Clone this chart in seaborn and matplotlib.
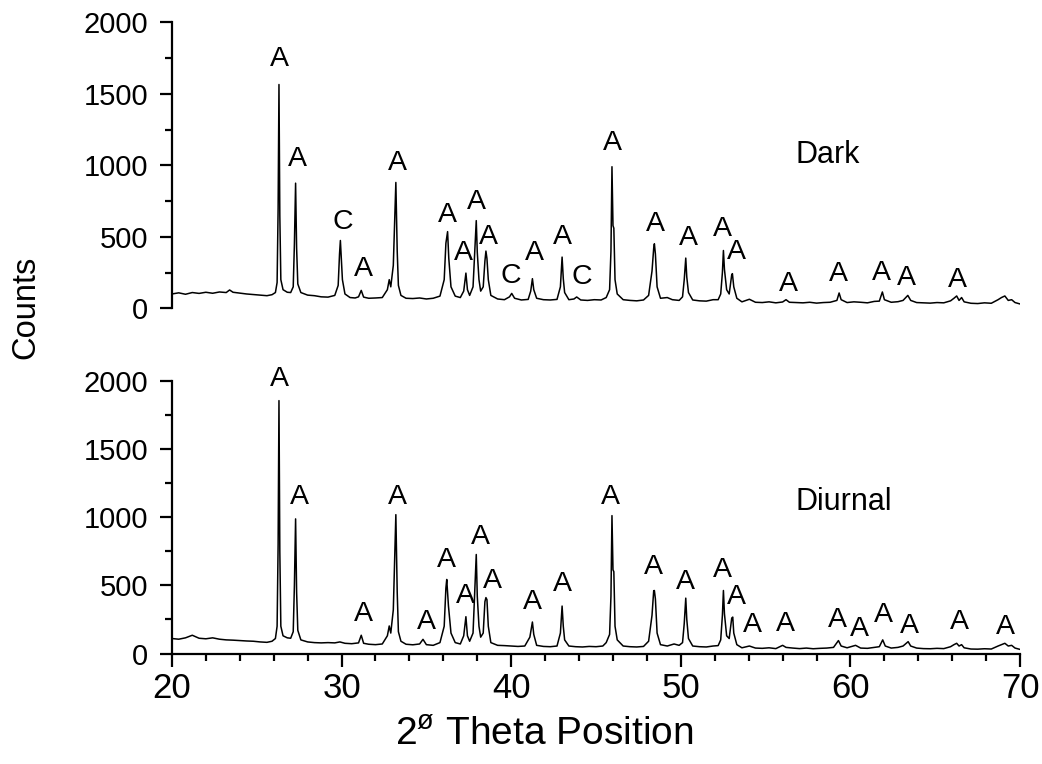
import numpy as np
import pandas as pd
import matplotlib
matplotlib.use("Agg")
import matplotlib.pyplot as plt
import seaborn as sns
from matplotlib import font_manager as fm
from matplotlib.ticker import MultipleLocator

# ---------------- data ----------------
dark_theta = [20.0, 20.4, 20.8, 21.2, 21.6, 22.0, 22.4, 22.8, 23.2, 23.4, 23.6, 24.0, 24.4, 24.8, 25.2, 25.6,
              25.9, 26.1, 26.2, 26.26, 26.31, 26.36, 26.42, 26.55, 26.8, 27.0, 27.15, 27.22, 27.29, 27.35, 27.42,
              27.6, 28.0, 28.4, 28.8, 29.2, 29.6, 29.8, 29.88, 29.93, 29.98, 30.05, 30.2, 30.5, 30.8, 31.0, 31.16,
              31.3, 31.6, 32.0, 32.4, 32.7, 32.81, 32.9, 33.05, 33.2, 33.28, 33.35, 33.5, 33.8, 34.2, 34.6, 35.0,
              35.4, 35.8, 36.05, 36.15, 36.25, 36.32, 36.45, 36.7, 37.0, 37.2, 37.33, 37.42, 37.55, 37.75, 37.85,
              37.94, 38.0, 38.1, 38.2, 38.35, 38.45, 38.51, 38.57, 38.65, 38.8, 39.2, 39.6, 39.9, 40.03, 40.2, 40.6,
              41.0, 41.15, 41.25, 41.33, 41.5, 41.9, 42.3, 42.7, 42.9, 43.0, 43.07, 43.15, 43.4, 43.7, 43.86, 44.1,
              44.5, 44.9, 45.3, 45.6, 45.8, 45.88, 45.94, 46.0, 46.05, 46.12, 46.25, 46.6, 47.0, 47.4, 47.8, 48.1,
              48.3, 48.4, 48.44, 48.5, 48.6, 48.8, 49.2, 49.5, 49.9, 50.1, 50.2, 50.29, 50.35, 50.45, 50.7, 51.1,
              51.5, 51.9, 52.2, 52.35, 52.45, 52.51, 52.57, 52.7, 52.85, 53.0, 53.04, 53.12, 53.3, 53.6, 54.04, 54.4,
              54.8, 55.2, 55.6, 56.0, 56.2, 56.4, 56.8, 57.2, 57.6, 58.0, 58.4, 58.8, 59.2, 59.33, 59.45, 59.8, 60.2,
              60.6, 61.0, 61.4, 61.7, 61.88, 62.0, 62.4, 62.8, 63.1, 63.38, 63.55, 63.9, 64.3, 64.7, 65.1, 65.5,
              65.9, 66.1, 66.26, 66.4, 66.55, 66.7, 67.1, 67.5, 67.9, 68.3, 68.7, 68.9, 69.1, 69.3, 69.5, 69.7, 70.0]
dark_counts = [100, 108, 98, 110, 104, 112, 105, 114, 110, 128, 112, 106, 100, 96, 92, 88,
               95, 110, 180, 700, 1565, 650, 200, 130, 112, 110, 150, 450, 875, 420, 170,
               110, 92, 88, 80, 78, 90, 160, 380, 474, 360, 200, 100, 75, 72, 80, 125,
               78, 70, 72, 75, 130, 200, 150, 300, 880, 400, 160, 90, 70, 68, 72, 65,
               70, 85, 200, 455, 536, 350, 150, 85, 75, 120, 246, 130, 90, 150, 400,
               613, 392, 200, 120, 150, 330, 400, 348, 200, 90, 65, 60, 80, 104, 70, 58,
               62, 120, 207, 130, 70, 60, 58, 62, 150, 358, 207, 110, 60, 65, 79, 58,
               55, 60, 58, 75, 130, 400, 990, 578, 560, 200, 100, 60, 55, 52, 58, 90,
               260, 420, 451, 380, 150, 70, 75, 60, 55, 80, 200, 351, 218, 110, 58, 52,
               50, 60, 60, 100, 250, 404, 272, 130, 100, 235, 242, 150, 70, 45, 63, 42,
               40, 45, 38, 44, 60, 42, 40, 38, 42, 36, 40, 42, 55, 107, 60, 40, 45,
               42, 38, 48, 50, 114, 60, 42, 46, 55, 90, 55, 40, 38, 36, 40, 38,
               52, 70, 86, 55, 75, 45, 35, 33, 38, 35, 60, 75, 86, 55, 60, 40, 30]

diurnal_theta = [20.0, 20.4, 20.8, 21.2, 21.6, 22.0, 22.4, 22.8, 23.2, 23.6, 24.0, 24.4, 24.8, 25.2, 25.6, 25.9,
                 26.1, 26.2, 26.26, 26.31, 26.36, 26.42, 26.55, 26.8, 27.0, 27.15, 27.22, 27.29, 27.35, 27.42, 27.6,
                 28.0, 28.4, 28.8, 29.2, 29.6, 29.9, 30.2, 30.6, 31.0, 31.16, 31.3, 31.6, 32.0, 32.4, 32.7, 32.81,
                 32.9, 33.05, 33.2, 33.28, 33.35, 33.5, 33.8, 34.2, 34.6, 34.8, 35.0, 35.4, 35.8, 36.05, 36.15, 36.2,
                 36.3, 36.45, 36.7, 37.0, 37.2, 37.33, 37.42, 37.55, 37.75, 37.85, 37.94, 38.0, 38.1, 38.2, 38.35,
                 38.45, 38.51, 38.57, 38.65, 38.8, 39.2, 39.6, 40.0, 40.4, 40.8, 41.1, 41.25, 41.33, 41.5, 41.9, 42.3,
                 42.7, 42.9, 43.0, 43.07, 43.15, 43.4, 43.8, 44.2, 44.6, 45.0, 45.4, 45.6, 45.8, 45.88, 45.94, 46.0,
                 46.05, 46.12, 46.25, 46.6, 47.0, 47.4, 47.8, 48.1, 48.3, 48.4, 48.44, 48.5, 48.6, 48.8, 49.2, 49.6,
                 49.9, 50.1, 50.2, 50.29, 50.35, 50.45, 50.7, 51.1, 51.5, 51.9, 52.2, 52.35, 52.45, 52.51, 52.57,
                 52.7, 52.85, 53.0, 53.06, 53.12, 53.3, 53.6, 54.04, 54.4, 54.8, 55.2, 55.6, 56.0, 56.2, 56.6, 57.0,
                 57.4, 57.8, 58.2, 58.6, 59.0, 59.29, 59.45, 59.8, 60.3, 60.6, 61.0, 61.4, 61.7, 61.9, 62.05, 62.4,
                 62.8, 63.1, 63.4, 63.55, 63.9, 64.3, 64.7, 65.1, 65.5, 65.9, 66.1, 66.26, 66.4, 66.55, 66.7, 67.1,
                 67.5, 67.9, 68.3, 68.7, 68.9, 69.1, 69.3, 69.5, 69.7, 70.0]
diurnal_counts = [110, 105, 115, 134, 112, 108, 115, 105, 100, 98, 95, 92, 90, 85, 82, 90,
                  110, 200, 800, 1854, 750, 200, 130, 115, 112, 160, 500, 987, 450, 170, 100,
                  85, 80, 78, 80, 78, 85, 75, 72, 78, 134, 75, 68, 65, 70, 130, 202,
                  150, 320, 1018, 450, 160, 90, 68, 64, 70, 104, 65, 60, 80, 200, 480, 543,
                  350, 150, 80, 70, 130, 270, 130, 90, 150, 450, 726, 420, 200, 120, 150,
                  380, 410, 395, 200, 80, 60, 58, 55, 52, 55, 120, 231, 140, 60, 52, 50,
                  55, 150, 348, 200, 100, 55, 50, 48, 52, 50, 55, 80, 140, 420, 1011, 614,
                  600, 200, 100, 55, 50, 48, 52, 90, 280, 460, 462, 400, 150, 65, 55, 70,
                  60, 80, 220, 406, 250, 110, 55, 50, 48, 55, 58, 100, 280, 462, 292,
                  130, 110, 260, 267, 150, 65, 42, 55, 40, 38, 42, 36, 60, 45, 40, 36,
                  40, 35, 38, 40, 45, 95, 55, 42, 60, 40, 38, 45, 50, 100, 55, 40,
                  45, 55, 87, 55, 40, 36, 35, 38, 36, 50, 65, 75, 55, 65, 42, 33,
                  32, 35, 33, 55, 65, 75, 55, 60, 40, 30]

# peak labels (phase letter, 2theta, counts)
dark_label_text = ["A", "A", "C", "A", "A", "A", "A", "A", "A", "C", "A", "A", "C", "A", "A", "A", "A", "A",
                   "A", "A", "A", "A", "A"]
dark_label_x = [26.33, 27.41, 30.06, 31.28, 33.28, 36.26, 37.18, 37.97, 38.65, 39.99, 41.36, 43.0, 44.16, 45.99,
                48.49, 50.44, 52.47, 53.30, 56.34, 59.29, 61.8, 63.32, 66.30]
dark_label_y = [1741, 1043, 605, 274, 1017, 652, 384, 744, 501, 228, 384, 500, 221, 1156,
                589, 489, 556, 393, 170, 240, 249, 209, 198]

diurnal_label_text = ["A"] * 24
diurnal_label_x = [26.33, 27.51, 31.28, 33.28, 35.02, 36.2, 37.28, 38.16, 38.91, 41.27, 43.0, 45.83, 48.38,
                   50.25, 52.47, 53.25, 54.24, 56.14, 59.23, 60.5, 61.94, 63.47, 66.4, 69.12]
diurnal_label_y = [2012, 1146, 289, 1146, 232, 689, 423, 854, 530, 379, 508, 1146, 634,
                   525, 610, 415, 208, 216, 245, 177, 281, 201, 232, 192]

panel_names = ["Dark", "Diurnal"]
x_ticks = [20, 30, 40, 50, 60, 70]
y_ticks = [0, 500, 1000, 1500, 2000]

# ---------------- style ----------------
sns.set_theme(style="ticks")
names = {f.name for f in fm.fontManager.ttflist}
base_font = "Liberation Sans" if "Liberation Sans" in names else "DejaVu Sans"
narrow_font = "Liberation Sans Narrow" if "Liberation Sans Narrow" in names else base_font
is_narrow = narrow_font != base_font
plt.rcParams["font.family"] = [base_font, "DejaVu Sans"]
plt.rcParams["mathtext.fontset"] = "custom"
plt.rcParams["mathtext.rm"] = narrow_font
plt.rcParams["mathtext.it"] = narrow_font
for key in ["text.color", "axes.labelcolor", "xtick.color", "ytick.color", "axes.edgecolor"]:
    plt.rcParams[key] = "black"

fig = plt.figure(figsize=(10.42, 7.64), dpi=100)
ax_top = fig.add_axes([0.165, 0.5965, 0.814, 0.3743])
ax_bot = fig.add_axes([0.165, 0.1446, 0.814, 0.3571])

df_dark = pd.DataFrame({"theta": dark_theta, "counts": dark_counts})
df_diur = pd.DataFrame({"theta": diurnal_theta, "counts": diurnal_counts})

for ax, df, lt, lx, ly, name in [
    (ax_top, df_dark, dark_label_text, dark_label_x, dark_label_y, panel_names[0]),
    (ax_bot, df_diur, diurnal_label_text, diurnal_label_x, diurnal_label_y, panel_names[1]),
]:
    sns.lineplot(data=df, x="theta", y="counts", ax=ax, color="black", linewidth=1.1,
                 estimator=None, sort=False)
    ax.set_xlim(20, 70)
    ax.set_ylim(0, 2000)
    ax.set_xlabel("")
    ax.set_ylabel("")
    for t, x, y in zip(lt, lx, ly):
        ax.text(x, y, t, ha="center", va="center", fontsize=20.5, color="black")
    ax.text(56.73, 1075 if name == "Dark" else 1110, name, ha="left", va="center",
            fontsize=22, color="black")
    ax.yaxis.set_major_locator(MultipleLocator(500))
    ax.yaxis.set_minor_locator(MultipleLocator(250))
    ax.set_yticks(y_ticks)
    ax.tick_params(axis="y", which="major", direction="out", length=9, width=1.6,
                   labelsize=21, pad=8, colors="black")
    ax.tick_params(axis="y", which="minor", direction="out", length=5, width=1.6, colors="black")
    ax.spines["right"].set_visible(False)
    ax.spines["top"].set_visible(False)
    ax.spines["left"].set_linewidth(1.6)
    ax.spines["left"].set_color("black")
    ax.patch.set_alpha(0)

# top panel: no bottom axis
ax_top.spines["bottom"].set_visible(False)
ax_top.tick_params(axis="x", which="both", bottom=False, labelbottom=False)

# bottom panel x axis
ax_bot.spines["bottom"].set_linewidth(1.6)
ax_bot.spines["bottom"].set_color("black")
ax_bot.xaxis.set_major_locator(MultipleLocator(10))
ax_bot.xaxis.set_minor_locator(MultipleLocator(2))
ax_bot.set_xticks(x_ticks)
ax_bot.tick_params(axis="x", which="major", direction="out", length=9, width=1.6,
                   labelsize=(28 if is_narrow else 25), pad=4, colors="black")
ax_bot.tick_params(axis="x", which="minor", direction="out", length=5, width=1.6, colors="black")
for lab in ax_bot.get_xticklabels():
    lab.set_fontfamily(narrow_font)

fig.text(0.522, 0.038, r"2$^{\mathrm{ø}}$ Theta Position", ha="center", va="center",
         fontsize=(34 if is_narrow else 28), family=narrow_font)
fig.text(0.0245, 0.598, "Counts", rotation=90, ha="center", va="center", fontsize=23.5)

fig.savefig("out.png", dpi=100)
